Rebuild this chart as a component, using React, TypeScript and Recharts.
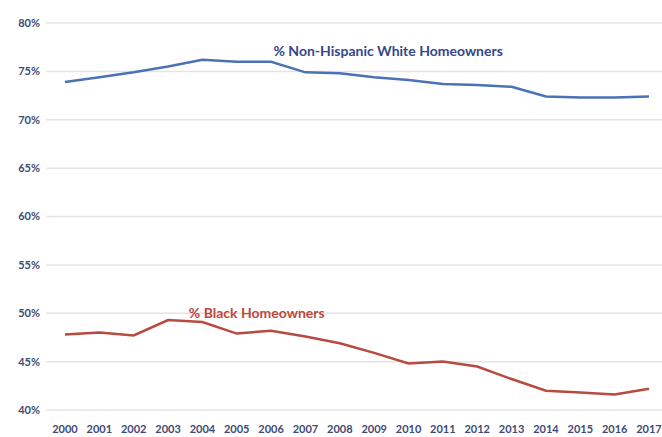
import { LineChart, Line, XAxis, YAxis, CartesianGrid, ReferenceDot } from 'recharts';

const years = ['2000', '2001', '2002', '2003', '2004', '2005', '2006', '2007', '2008', '2009', '2010', '2011', '2012', '2013', '2014', '2015', '2016', '2017'];
const whiteRates = [73.9, 74.4, 74.9, 75.5, 76.2, 76.0, 76.0, 74.9, 74.8, 74.4, 74.1, 73.7, 73.6, 73.4, 72.4, 72.3, 72.3, 72.4];
const blackRates = [47.8, 48.0, 47.7, 49.3, 49.1, 47.9, 48.2, 47.6, 46.9, 45.9, 44.8, 45.0, 44.5, 43.2, 42.0, 41.8, 41.6, 42.2];
const yTicks = [40, 45, 50, 55, 60, 65, 70, 75, 80];

const data = years.map((year, i) => ({ year, white: whiteRates[i], black: blackRates[i] }));

const FONT = 'Lato, "Open Sans", sans-serif';
const AXIS_COLOR = '#3d4a78';

const seriesLabel = (text: string, color: string, dx: number) => (props: any) => {
  const { viewBox } = props;
  const cx = viewBox.x + viewBox.width / 2 + dx;
  const cy = viewBox.y + viewBox.height / 2;
  return (
    <text x={cx} y={cy} textAnchor="middle" dominantBaseline="central" fill={color} fontSize={14} fontWeight={700} fontFamily={FONT}>
      {text}
    </text>
  );
};

export default function App() {
  return (
    <div style={{ position: 'absolute', left: 0, top: 0, width: 662, height: 437, background: '#fff' }}>
      <LineChart width={662} height={437} data={data} margin={{ top: 23, right: 0, bottom: 0, left: 0 }}>
        <CartesianGrid vertical={false} stroke="#e4e4e4" strokeWidth={1.5} />
        <XAxis
          dataKey="year"
          padding={{ left: 19, right: 13 }}
          axisLine={false}
          tickLine={false}
          height={27}
          tickMargin={9}
          interval={0}
          tick={{ fontSize: 11, fontWeight: 700, fill: AXIS_COLOR, fontFamily: FONT }}
        />
        <YAxis
          domain={[40, 80]}
          ticks={yTicks}
          tickFormatter={(v: number) => `${v}%`}
          width={46}
          axisLine={false}
          tickLine={false}
          tickSize={0}
          tickMargin={6}
          tick={{ fontSize: 11, fontWeight: 700, fill: AXIS_COLOR, fontFamily: FONT }}
        />
        <Line type="linear" dataKey="white" stroke="#4a72b5" strokeWidth={2.5} dot={false} isAnimationActive={false} />
        <Line type="linear" dataKey="black" stroke="#b84a40" strokeWidth={2.5} dot={false} isAnimationActive={false} />
        <ReferenceDot x="2009" y={77.2} r={0} fill="none" stroke="none" label={seriesLabel('% Non-Hispanic White Homeowners', '#34478a', 14)} />
        <ReferenceDot x="2005" y={50.1} r={0} fill="none" stroke="none" label={seriesLabel('% Black Homeowners', '#c0463c', 20)} />
      </LineChart>
    </div>
  );
}
